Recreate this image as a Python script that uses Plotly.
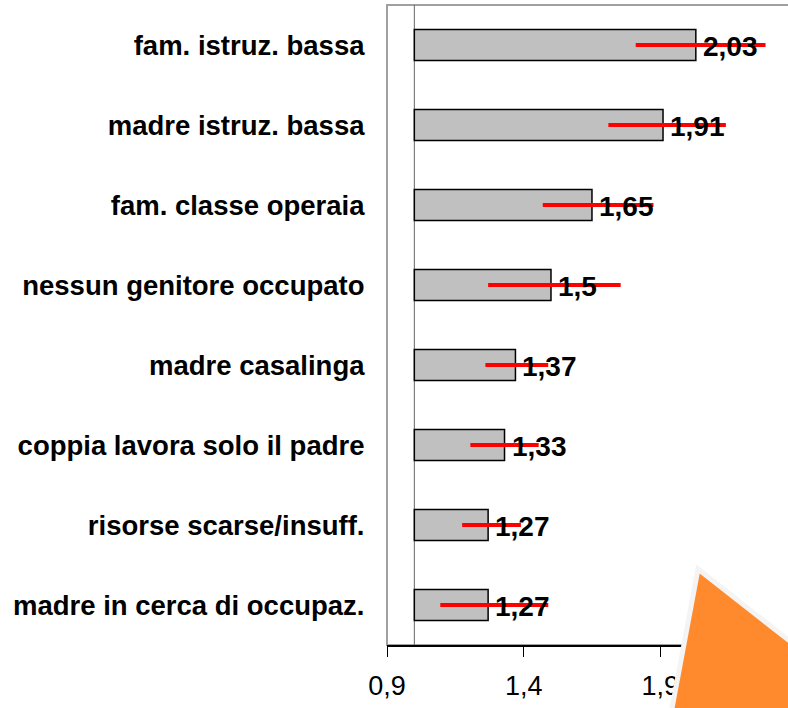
import plotly.graph_objects as go

categories = [
    "fam. istruz. bassa",
    "madre istruz. bassa",
    "fam. classe operaia",
    "nessun genitore occupato",
    "madre casalinga",
    "coppia lavora solo il padre",
    "risorse scarse/insuff.",
    "madre in cerca di occupaz.",
]
values = [2.03, 1.91, 1.65, 1.5, 1.37, 1.33, 1.27, 1.27]
ci_low = [1.81, 1.71, 1.47, 1.27, 1.26, 1.205, 1.175, 1.095]
ci_high = [2.285, 2.14, 1.875, 1.755, 1.49, 1.455, 1.39, 1.49]
value_labels = ["2,03", "1,91", "1,65", "1,5", "1,37", "1,33", "1,27", "1,27"]
baseline = 1.0
x_ticks = [0.9, 1.4, 1.9]
x_tick_labels = ["0,9", "1,4", "1,9"]

y_keys = list(range(len(categories)))

FONT = "Liberation Sans, Arial, sans-serif"

fig = go.Figure()

fig.add_trace(go.Bar(
    y=y_keys,
    x=[v - baseline for v in values],
    base=baseline,
    orientation="h",
    width=0.39,
    marker=dict(color="#C0C0C0", line=dict(color="#000000", width=1.5)),
    hoverinfo="skip",
))

fig.add_trace(go.Scatter(
    y=y_keys,
    x=values,
    mode="markers",
    marker=dict(size=1, color="rgba(0,0,0,0)"),
    error_x=dict(
        type="data",
        symmetric=False,
        array=[h - v for h, v in zip(ci_high, values)],
        arrayminus=[v - l for v, l in zip(values, ci_low)],
        color="#FF0000",
        thickness=4,
        width=0,
    ),
    hoverinfo="skip",
))

for yk, v, lab in zip(y_keys, values, value_labels):
    fig.add_annotation(
        x=v, y=yk, xref="x", yref="y", text=lab, showarrow=False,
        xanchor="left", yanchor="middle", xshift=5, yshift=-1,
        font=dict(family=FONT, size=28, color="#000000", weight="bold"),
    )

# plot frame (left/top gray border)
fig.add_shape(type="rect", xref="paper", yref="paper", x0=0, x1=1.2, y0=0, y1=1,
              line=dict(color="#A0A0A0", width=2), layer="below")
# vertical reference line at baseline
fig.add_shape(type="line", xref="x", yref="paper", x0=baseline, x1=baseline, y0=0, y1=1,
              line=dict(color="#666666", width=1), layer="below")

# orange decorative triangle in the corner
px0, pw = 387.0, 401.0
py_bottom, ph = 645.0, 640.0
def P(x, y):
    return f"{(x - px0) / pw:.4f},{(py_bottom - y) / ph:.4f}"
path = "M " + P(698, 569) + " L " + P(810, 657) + " L " + P(810, 730) + " L " + P(668, 730) + " Z"
fig.add_shape(type="path", xref="paper", yref="paper", path=path,
              fillcolor="#FF8A2E", line=dict(color="#F4F4F4", width=5), layer="above")

fig.update_layout(
    width=788,
    height=708,
    margin=dict(l=387, r=0, t=5, b=63, autoexpand=False),
    paper_bgcolor="white",
    plot_bgcolor="white",
    showlegend=False,
    bargap=0,
    separators=",.",
    xaxis=dict(
        range=[0.9, 0.9 + 401 / 273.3],
        tickvals=x_ticks,
        ticktext=x_tick_labels,
        ticks="outside",
        ticklen=10,
        tickcolor="#000000",
        tickwidth=1,
        ticklabelstandoff=6,
        showline=True,
        linecolor="#000000",
        linewidth=1.5,
        showgrid=False,
        zeroline=False,
        automargin=False,
        tickfont=dict(family=FONT, size=27, color="#000000"),
        fixedrange=True,
    ),
    yaxis=dict(
        tickvals=y_keys,
        ticktext=categories,
        range=[len(categories) - 0.5, -0.5],
        ticks="outside",
        ticklen=16,
        tickcolor="rgba(0,0,0,0)",
        showline=False,
        showgrid=False,
        zeroline=False,
        automargin=False,
        tickfont=dict(family=FONT, size=27.5, color="#000000", weight="bold"),
        fixedrange=True,
    ),
)

fig.write_html(
    "out.html",
    config={"displayModeBar": False, "staticPlot": True},
    post_script="document.body.style.margin='0';document.body.style.overflow='hidden';",
)
